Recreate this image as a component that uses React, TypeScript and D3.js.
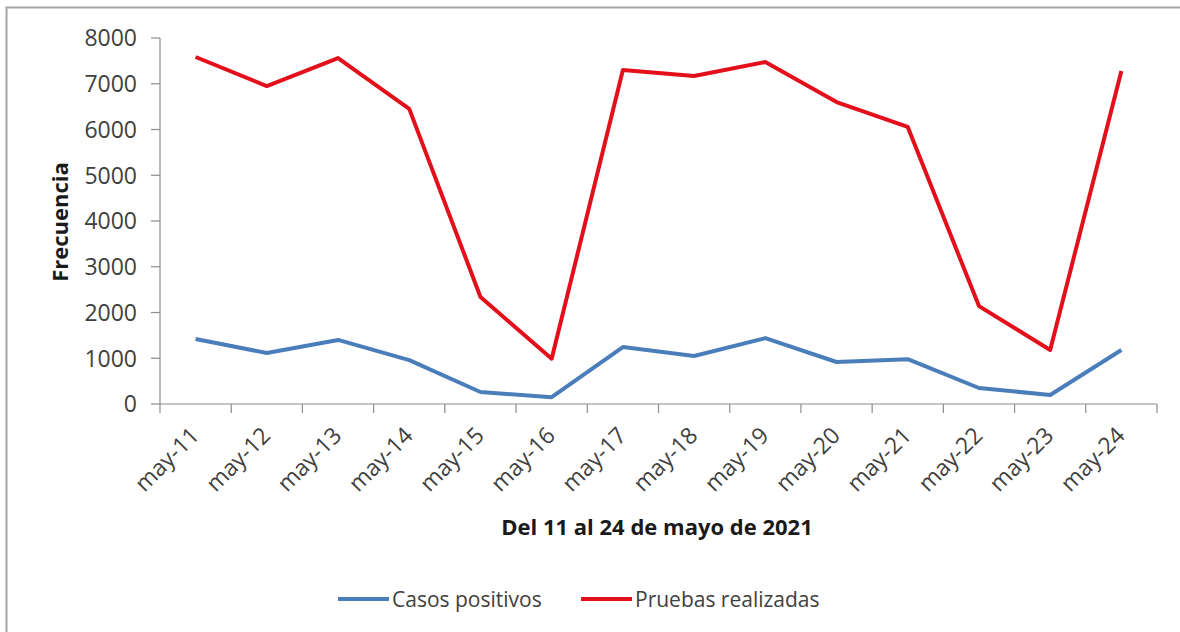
import React from "react";
import * as d3 from "d3";

const categories = ["may-11","may-12","may-13","may-14","may-15","may-16","may-17","may-18","may-19","may-20","may-21","may-22","may-23","may-24"];
const casosPositivos = [1420, 1115, 1400, 960, 262, 150, 1245, 1050, 1440, 918, 980, 350, 197, 1180];
const pruebasRealizadas = [7585, 6950, 7560, 6450, 2340, 990, 7300, 7170, 7475, 6600, 6055, 2140, 1180, 7280];
const yTicks = [0, 1000, 2000, 3000, 4000, 5000, 6000, 7000, 8000];
const seriesNames = ["Casos positivos", "Pruebas realizadas"];
const seriesColors = ["#4a7ebb", "#e3101c"];

const W = 1180, H = 632;
const L = 160, R = 1157, T = 38, B = 404;
const FONT = "'Open Sans', sans-serif";

export default function App() {
  const x = d3.scaleBand<string>().domain(categories).range([L, R]);
  const y = d3.scaleLinear().domain([0, 8000]).range([B, T]);
  const line = d3.line<number>()
    .x((_, i) => (x(categories[i]) as number) + x.bandwidth() / 2)
    .y((d) => y(d));
  const boundaries = d3.range(categories.length + 1).map((i) => L + i * x.step());
  return (
    <svg width={W} height={H} style={{ position: "absolute", left: 0, top: 0 }}>
      <rect x={0} y={0} width={W} height={H} fill="#fff" />
      <path d={`M6.5,${H} V7.5 H${W}`} fill="none" stroke="#a6a6a6" strokeWidth={2} />
      {/* y axis */}
      <line x1={L} x2={L} y1={T} y2={B} stroke="#8c8c8c" strokeWidth={1.2} />
      {yTicks.map((t) => (
        <g key={t}>
          <line x1={L - 9} x2={L} y1={y(t)} y2={y(t)} stroke="#8c8c8c" strokeWidth={1.2} />
          <text x={L - 23} y={y(t)} dy="0.36em" textAnchor="end" fontFamily={FONT} fontSize={23} fill="#404040">{t}</text>
        </g>
      ))}
      {/* x axis */}
      <line x1={L} x2={R} y1={B} y2={B} stroke="#8c8c8c" strokeWidth={1.2} />
      {boundaries.map((bx, i) => (
        <line key={i} x1={bx} x2={bx} y1={B} y2={B + 9} stroke="#8c8c8c" strokeWidth={1.2} />
      ))}
      {categories.map((c) => {
        const cx = (x(c) as number) + x.bandwidth() / 2;
        return (
          <text key={c} transform={`translate(${cx + 5},${437}) rotate(-45)`} textAnchor="end" fontFamily={FONT} fontSize={23} fill="#404040">{c}</text>
        );
      })}
      {/* lines */}
      {[casosPositivos, pruebasRealizadas].map((s, k) => (
        <path key={k} d={line(s) as string} fill="none" stroke={seriesColors[k]} strokeWidth={4} strokeLinejoin="round" />
      ))}
      {/* titles */}
      <text x={657} y={535} textAnchor="middle" fontFamily={FONT} fontWeight="bold" fontSize={22} fill="#1a1a1a">Del 11 al 24 de mayo de 2021</text>
      <text transform={`translate(68,${222}) rotate(-90)`} textAnchor="middle" fontFamily={FONT} fontWeight="bold" fontSize={22} fill="#1a1a1a">Frecuencia</text>
      {/* legend */}
      {seriesNames.map((n, k) => {
        const lx = k === 0 ? 338 : 581;
        return (
          <g key={n}>
            <line x1={lx} x2={lx + 51} y1={599} y2={599} stroke={seriesColors[k]} strokeWidth={4} />
            <text x={lx + 54} y={599} dy="0.36em" fontFamily={FONT} fontSize={21} fill="#404040">{n}</text>
          </g>
        );
      })}
    </svg>
  );
}
